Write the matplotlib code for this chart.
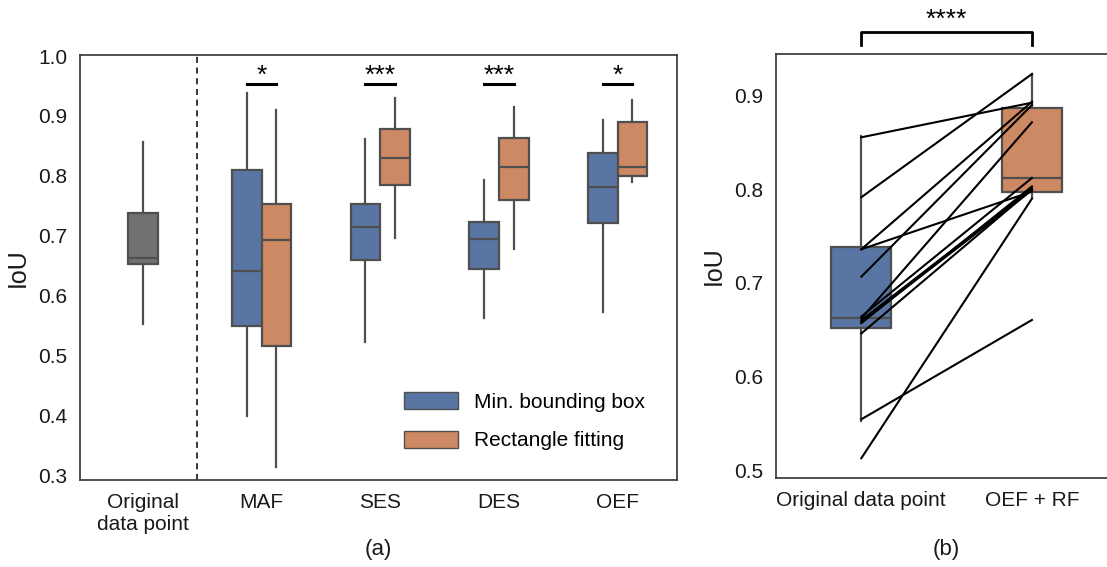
import matplotlib
matplotlib.use('Agg')
import matplotlib.pyplot as plt
from matplotlib.patches import Patch

####################################################################################

plt.rcParams['font.family'] = ['Liberation Sans', 'DejaVu Sans']

FIG_W, FIG_H = 1107, 567

BLUE_RGB = '#5875A4'
ORANGE_RGB = '#CD8963'
GRAY_RGB = '#717171'
LINE_RGB = '#4F4F4F'
SPINE_RGB = '#3A3A3A'
TEXT_RGB = '#1A1A1A'

TICK_SIZE = 15
STAR_SIZE = 19

# box stats: (whisker low, q1, median, q3, whisker high)
methods = ['MAF', 'SES', 'DES', 'OEF']
min_bbox_stats = [
    (0.399, 0.549, 0.641, 0.810, 0.938),
    (0.522, 0.660, 0.715, 0.753, 0.862),
    (0.562, 0.644, 0.694, 0.723, 0.793),
    (0.572, 0.7205, 0.781, 0.8375, 0.893),
]
rect_fit_stats = [
    (0.314, 0.5155, 0.693, 0.753, 0.909),
    (0.696, 0.784, 0.830, 0.8775, 0.930),
    (0.677, 0.760, 0.814, 0.8625, 0.914),
    (0.790, 0.7995, 0.814, 0.889, 0.926),
]
original_stats = (0.553, 0.652, 0.663, 0.738, 0.857)
oef_rf_stats = (0.791, 0.7974, 0.8121, 0.8871, 0.9231)
significance = ['*', '***', '***', '*']

# paired samples for panel (b)
paired_original = [0.8555, 0.7915, 0.7359, 0.7359, 0.7066, 0.664, 0.662,
                   0.660, 0.658, 0.657, 0.646, 0.5543, 0.5127]
paired_oef_rf = [0.8925, 0.9231, 0.8935, 0.7976, 0.890, 0.8121, 0.8716,
                 0.801, 0.799, 0.803, 0.800, 0.6604, 0.790]

####################################################################################

def draw_box(axes, vals, pos, width, color):
    lo, q1, med, q3, hi = vals
    stats = [dict(whislo=lo, q1=q1, med=med, q3=q3, whishi=hi, fliers=[])]
    axes.bxp(stats, positions=[pos], widths=width, patch_artist=True,
             showcaps=False, showfliers=False, manage_ticks=False,
             boxprops=dict(facecolor=color, edgecolor=LINE_RGB, linewidth=1.6),
             medianprops=dict(color=LINE_RGB, linewidth=1.6),
             whiskerprops=dict(color=LINE_RGB, linewidth=1.6))

def style_axes(axes):
    for spine in axes.spines.values():
        spine.set_color(SPINE_RGB)
        spine.set_linewidth(1.25)
    axes.tick_params(length=0, pad=9, labelsize=TICK_SIZE, colors=TEXT_RGB)

def px_axes(left, top, right, bottom):
    return [left / FIG_W, 1 - bottom / FIG_H, (right - left) / FIG_W, (bottom - top) / FIG_H]

####################################################################################

figure = plt.figure(figsize=(FIG_W / 100, FIG_H / 100), dpi=100)

# panel (a)
ax_a = figure.add_axes(px_axes(80, 55, 677, 480))
style_axes(ax_a)

draw_box(ax_a, original_stats, 0, 0.25, GRAY_RGB)
for i, name in enumerate(methods):
    draw_box(ax_a, min_bbox_stats[i], i + 1 - 0.125, 0.25, BLUE_RGB)
    draw_box(ax_a, rect_fit_stats[i], i + 1 + 0.125, 0.25, ORANGE_RGB)
    ax_a.plot([i + 1 - 0.125, i + 1 + 0.125], [0.954, 0.954], color='black', linewidth=2.2)
    ax_a.text(i + 1, 0.955, significance[i], ha='center', va='baseline', fontsize=STAR_SIZE, color='black')

ax_a.axvline(0.452, color='black', linewidth=1.1, linestyle=(0, (4, 3)))
ax_a.set_xlim(-0.53, 4.5)
ax_a.set_ylim(0.2917, 1.0017)
ax_a.set_yticks([0.3, 0.4, 0.5, 0.6, 0.7, 0.8, 0.9, 1.0])
ax_a.set_xticks(range(5))
ax_a.set_xticklabels(['Original\ndata point'] + methods)
ax_a.set_ylabel('IoU', fontsize=18, color=TEXT_RGB, labelpad=6)

handles = [Patch(facecolor=BLUE_RGB, edgecolor=LINE_RGB, linewidth=1),
           Patch(facecolor=ORANGE_RGB, edgecolor=LINE_RGB, linewidth=1)]
ax_a.legend(handles, ['Min. bounding box', 'Rectangle fitting'], loc='lower left',
            bbox_to_anchor=(0.528, 0.05), borderaxespad=0, frameon=False, fontsize=15,
            handlelength=2.6, handleheight=0.87, handletextpad=0.77, labelspacing=0.9)

# panel (b)
ax_b = figure.add_axes(px_axes(776, 54, 1107, 478))
style_axes(ax_b)
ax_b.spines['right'].set_visible(False)

draw_box(ax_b, original_stats, 0, 0.35, BLUE_RGB)
draw_box(ax_b, oef_rf_stats, 1, 0.35, ORANGE_RGB)
for left, right in zip(paired_original, paired_oef_rf):
    ax_b.plot([0, 1], [left, right], color='black', linewidth=1.5, zorder=5)

ax_b.plot([0, 0, 1, 1], [0.954, 0.9677, 0.9677, 0.954], color='black', linewidth=2, clip_on=False)
ax_b.text(0.5, 0.9733, '****', ha='center', va='baseline', fontsize=STAR_SIZE, color='black')

ax_b.set_xlim(-0.5, 1.44)
ax_b.set_ylim(0.4916, 0.9445)
ax_b.set_yticks([0.5, 0.6, 0.7, 0.8, 0.9])
ax_b.set_xticks([0, 1])
ax_b.set_xticklabels(['Original data point', 'OEF + RF'])
ax_b.set_ylabel('IoU', fontsize=18, color=TEXT_RGB, labelpad=6)

figure.text(378.5 / FIG_W, 1 - 549 / FIG_H, '(a)', ha='center', va='center', fontsize=16, color=TEXT_RGB)
figure.text(946 / FIG_W, 1 - 549 / FIG_H, '(b)', ha='center', va='center', fontsize=16, color=TEXT_RGB)

plt.savefig('out.png', dpi=100)
